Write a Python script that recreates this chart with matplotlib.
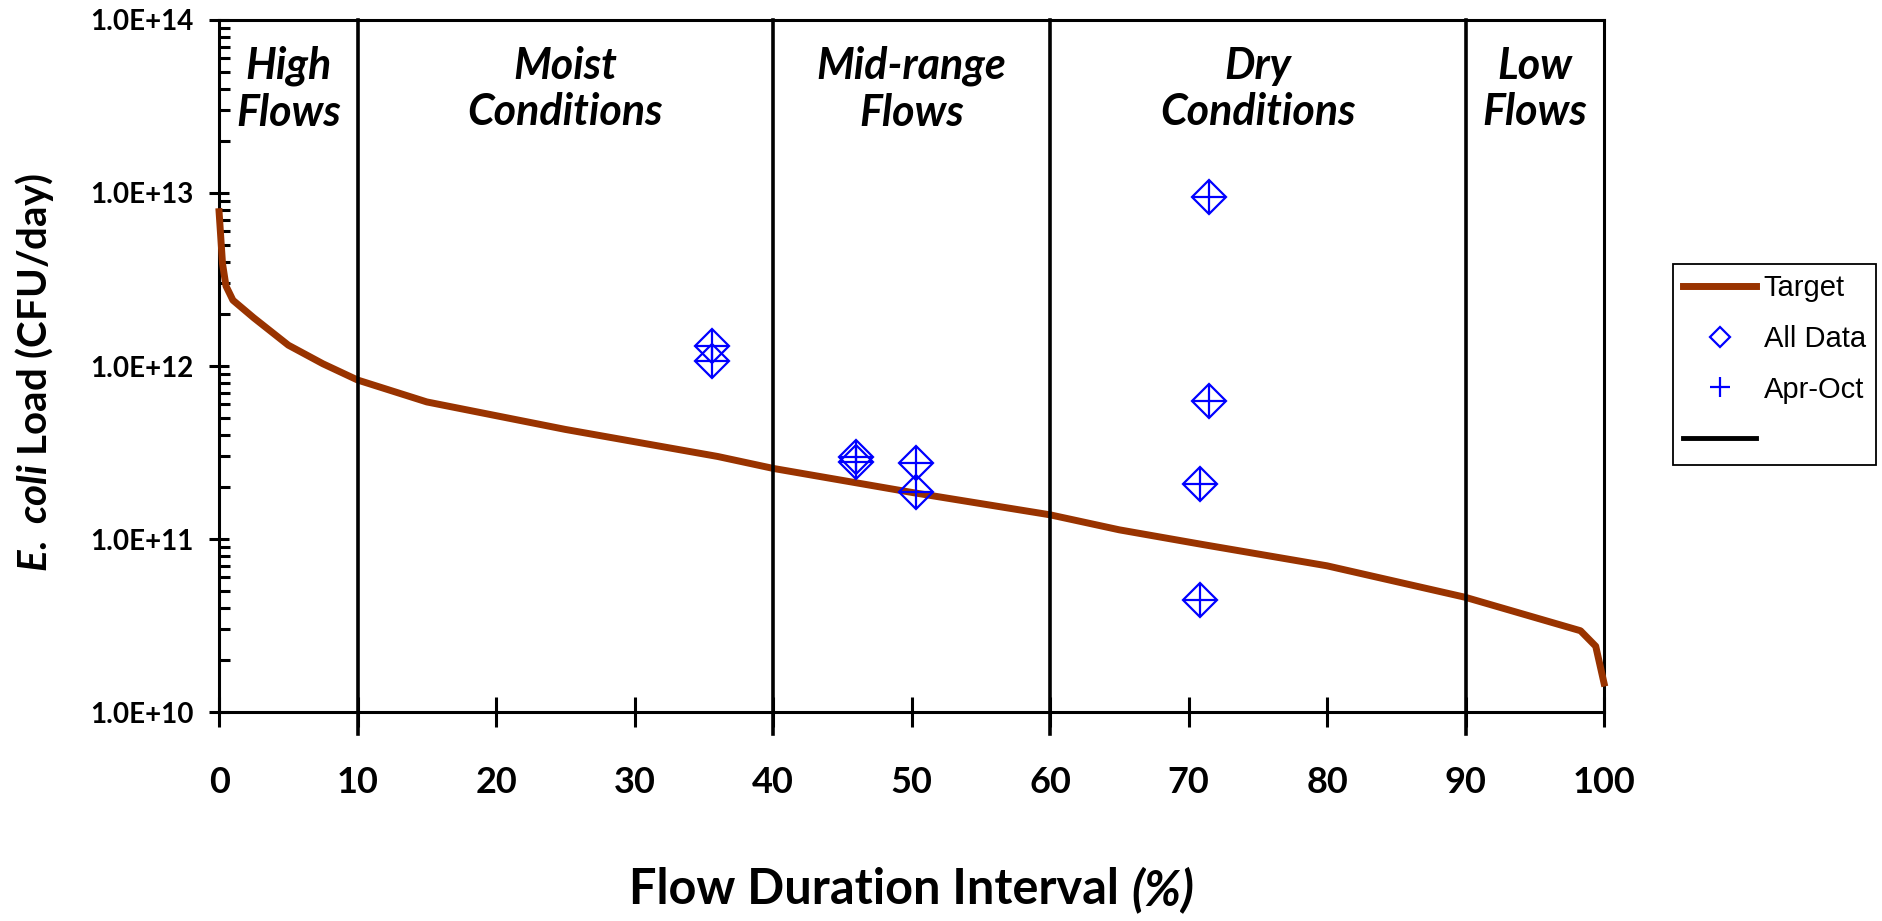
import matplotlib
matplotlib.use("Agg")
import matplotlib.pyplot as plt
from matplotlib.ticker import LogLocator, FuncFormatter, NullFormatter

# target load duration curve (flow interval %, CFU/day)
target_x = [0, 0.25, 0.5, 1, 2.5, 5, 7.5, 10, 15, 25, 36, 40, 50, 60, 65, 71, 80, 90, 98.3, 99.4, 100]
target_y = [7.8e12, 3.9e12, 2.9e12, 2.4e12, 1.9e12, 1.32e12, 1.03e12, 8.3e11, 6.2e11, 4.3e11,
            3.0e11, 2.56e11, 1.86e11, 1.38e11, 1.13e11, 9.3e10, 7.0e10, 4.6e10, 2.95e10, 2.4e10, 1.47e10]

# observed loads
all_x = [35.6, 35.6, 46.0, 46.0, 50.3, 50.3, 71.5, 71.5, 70.8, 70.8]
all_y = [1.31e12, 1.07e12, 2.98e11, 2.78e11, 2.74e11, 1.86e11, 9.45e12, 6.3e11, 2.07e11, 4.44e10]
apr_x = [35.6, 35.6, 46.0, 46.0, 50.3, 50.3, 71.5, 71.5, 70.8, 70.8]
apr_y = [1.31e12, 1.07e12, 2.98e11, 2.78e11, 2.74e11, 1.86e11, 9.45e12, 6.3e11, 2.07e11, 4.44e10]

# flow zones
boundaries = [10, 40, 60, 90]
zone_edges = [0, 10, 40, 60, 90, 100]
zone_names = ["High\nFlows", "Moist\nConditions", "Mid-range\nFlows", "Dry\nConditions", "Low\nFlows"]

plt.rcParams['font.family'] = ['Lato', 'DejaVu Sans']
plt.rcParams['font.weight'] = 'bold'
plt.rcParams['axes.labelweight'] = 'bold'
plt.rcParams['mathtext.fontset'] = 'custom'
plt.rcParams['mathtext.it'] = 'Lato:italic:bold'
plt.rcParams['mathtext.rm'] = 'Lato:bold'
plt.rcParams['mathtext.bf'] = 'Lato:bold'

fig = plt.figure(figsize=(18.82, 9.21), dpi=100)
ax = fig.add_axes([0.1164, 0.2269, 0.7359, 0.7514])

target_line, = ax.plot(target_x, target_y, color='#993300', lw=5, zorder=2,
                       solid_joinstyle='round', clip_on=False)
for b in boundaries:
    bline = ax.axvline(b, ymin=-0.032, ymax=1, color='black', lw=2.6, clip_on=False, zorder=3)
diam, = ax.plot(all_x, all_y, ls='none', marker='D', ms=17.8, mfc='none', mec='blue', mew=1.6, zorder=5)
plus, = ax.plot(apr_x, apr_y, ls='none', marker='+', ms=25, mec='blue', mew=1.6, zorder=6)

ax.set_yscale('log')
ax.set_ylim(1e10, 1e14)
ax.set_xlim(0, 100)
ax.set_xticks(range(0, 101, 10))
ax.yaxis.set_major_locator(LogLocator(base=10, numticks=10))
ax.yaxis.set_minor_locator(LogLocator(base=10, subs=range(2, 10), numticks=10))
ax.yaxis.set_major_formatter(FuncFormatter(lambda v, p: f"{v:.1E}"))
ax.yaxis.set_minor_formatter(NullFormatter())

ax.tick_params(axis='x', which='major', direction='inout', length=22, width=2.2, pad=28, labelsize=26)
ax.tick_params(axis='x', which='minor', bottom=False)
ax.tick_params(axis='y', which='major', direction='inout', length=15, width=2.2, pad=11, labelsize=20)
ax.tick_params(axis='y', which='minor', direction='in', length=8, width=2.2)
for s in ax.spines.values():
    s.set_linewidth(2.2)
    s.set_zorder(1)

# zone names
for i, name in enumerate(zone_names):
    xc = (zone_edges[i] + zone_edges[i + 1]) / 2
    ax.text(xc, 0.9, name, transform=ax.get_xaxis_transform(), ha='center', va='center',
            fontsize=31, style='italic', fontweight='bold', linespacing=1.2)

# x label, with the "(%)" part in italics
ax.set_xlabel("Flow Duration Interval", fontsize=35, fontweight='bold')
ax.xaxis.set_label_coords(0.473, -0.257)
ax.xaxis.label.set_va('center')
ax.annotate("(%)", xy=(1, 0.5), xycoords=ax.xaxis.label, xytext=(9, 0), textcoords='offset points',
            ha='left', va='center', fontsize=35, fontweight='bold', style='italic')

ax.set_ylabel(r"$\mathit{E.\ coli}$ Load (CFU/day)", fontsize=29, fontweight='bold')
ax.yaxis.set_label_coords(-0.133, 0.49)
ax.yaxis.label.set_va('center')

leg = fig.legend([target_line, diam, plus, bline], ['Target', 'All Data', 'Apr-Oct', ''],
                 loc='upper left', bbox_to_anchor=(0.889, 0.7134), bbox_transform=fig.transFigure,
                 borderaxespad=0, fancybox=False, edgecolor='black', framealpha=1,
                 prop={'family': 'Liberation Sans', 'weight': 'normal', 'size': 21},
                 handlelength=2.5, handletextpad=0.25, borderpad=0.35, labelspacing=0.78,
                 markerscale=0.6)
leg.get_frame().set_linewidth(1.3)
leg.get_lines()[3].set_linewidth(3.5)

fig.savefig('out.png', dpi=100)
